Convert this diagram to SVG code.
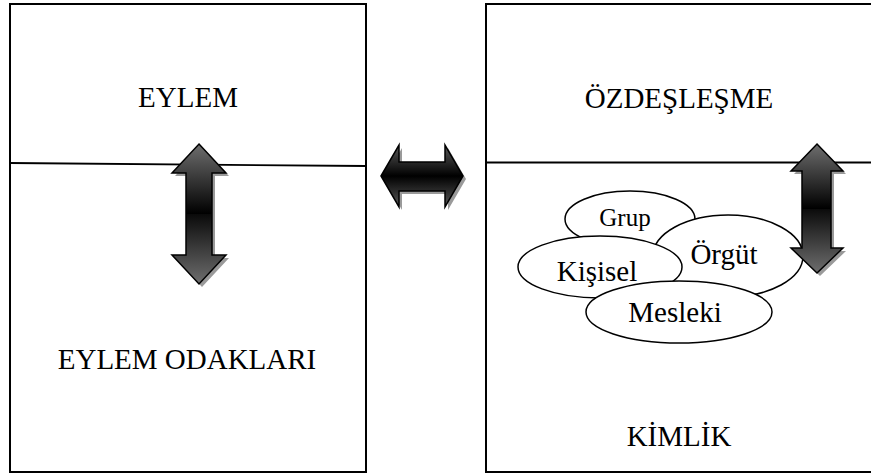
<svg xmlns="http://www.w3.org/2000/svg" width="871" height="475" viewBox="0 0 871 475">
<style>
.box{fill:#fff;stroke:#000;stroke-width:2}
.div{fill:none;stroke:#000;stroke-width:1.8}
.t{font-family:"Liberation Serif","Times New Roman",serif;font-size:29px;fill:#000;text-anchor:middle}
.ell{fill:#fff;stroke:#000;stroke-width:1.5}
.arr{fill:url(#gv);stroke:#000;stroke-width:1.5;stroke-linejoin:miter}
.arrh{fill:url(#gh);stroke:#000;stroke-width:1.5;stroke-linejoin:miter}
.sh{fill:#9a9a9a}
</style>
<defs>
<linearGradient id="gv" x1="0" y1="0" x2="0" y2="1">
<stop offset="0" stop-color="#6e6e6e"/>
<stop offset="0.5" stop-color="#000"/>
<stop offset="0.5" stop-color="#0a0a0a"/>
<stop offset="1" stop-color="#6e6e6e"/>
</linearGradient>
<linearGradient id="gh" x1="0" y1="0" x2="0" y2="1">
<stop offset="0" stop-color="#5a5a5a"/>
<stop offset="0.5" stop-color="#000"/>
<stop offset="1" stop-color="#5a5a5a"/>
</linearGradient>
</defs>
<g id="eylem-box">
<rect x="11" y="5" width="356" height="468" fill="#bbb"/>
<rect class="box" x="10" y="4" width="356" height="468"/>
<path class="div" d="M10,163 L366,166"/>
<text class="t" x="188" y="107">EYLEM</text>
<text class="t" x="187" y="369">EYLEM ODAKLARI</text>
</g>
<g id="kimlik-box">
<rect x="487" y="5" width="390" height="468" fill="#bbb"/>
<rect class="box" x="486" y="4" width="390" height="468"/>
<path class="div" d="M486,162.5 L871,162.5"/>
<text class="t" x="679" y="108">ÖZDEŞLEŞME</text>
<text class="t" x="679" y="446">KİMLİK</text>
</g>
<g id="grup">
<ellipse class="ell" cx="630" cy="219" rx="65" ry="28"/>
<text class="t" x="625" y="226" style="font-size:25px">Grup</text>
</g>
<g id="orgut">
<ellipse class="ell" cx="728" cy="256" rx="75" ry="41"/>
<text class="t" x="724" y="264">Örgüt</text>
</g>
<g id="kisisel">
<ellipse class="ell" cx="600" cy="267" rx="82" ry="31"/>
<text class="t" x="597" y="281">Kişisel</text>
</g>
<g id="mesleki">
<ellipse class="ell" cx="679" cy="312" rx="93" ry="31"/>
<text class="t" x="675" y="322">Mesleki</text>
</g>
<g id="connectors">
<g id="arrow-left-vertical">
<path class="sh" transform="translate(3,3)" d="M199,144 L226,173 L212,173 L212,255 L226,255 L199,284 L172,255 L186,255 L186,173 L172,173 Z"/>
<path class="arr" d="M199,144 L226,173 L212,173 L212,255 L226,255 L199,284 L172,255 L186,255 L186,173 L172,173 Z"/>
</g>
<g id="arrow-middle">
<path class="sh" transform="translate(3,3)" d="M381,176 L399,145 L399,162 L445,162 L445,145 L463,176 L445,207 L445,191 L399,191 L399,207 Z"/>
<path class="arrh" d="M381,176 L399,145 L399,162 L445,162 L445,145 L463,176 L445,207 L445,191 L399,191 L399,207 Z"/>
</g>
<g id="arrow-right-vertical">
<path class="sh" transform="translate(3,3)" d="M817,144 L843,171 L831,171 L831,248 L843,248 L817,273 L791,248 L802,248 L802,171 L791,171 Z"/>
<path class="arr" d="M817,144 L843,171 L831,171 L831,248 L843,248 L817,273 L791,248 L802,248 L802,171 L791,171 Z"/>
</g>
</g>
</svg>
